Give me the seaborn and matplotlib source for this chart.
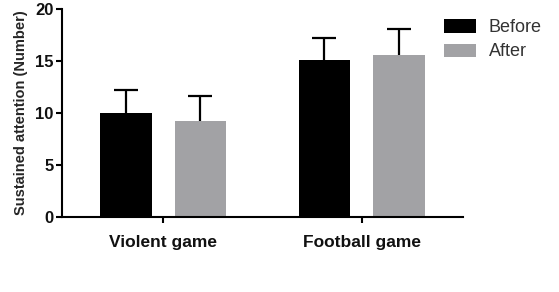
import matplotlib
matplotlib.use('Agg')
import matplotlib.pyplot as plt
from matplotlib.patches import Patch
import seaborn as sns
import pandas as pd

# data
games = ['Violent game', 'Football game']
groups = ['Before', 'After']
before_mean = [10.0, 15.1]
after_mean = [9.2, 15.6]
before_sd = [2.2, 2.15]
after_sd = [2.45, 2.45]
colors = ['#000000', '#a2a2a5']

df = pd.DataFrame({
    'game': games * 2,
    'time': ['Before'] * 2 + ['After'] * 2,
    'value': before_mean + after_mean,
})

sns.set_style('ticks')
plt.rcParams['font.family'] = ['Liberation Sans', 'DejaVu Sans']

fig = plt.figure(figsize=(5.59, 2.92), dpi=100)
ax = fig.add_axes([0.111, 0.257, 0.717, 0.712])

sns.barplot(data=df, x='game', y='value', hue='time', order=games, hue_order=groups,
            palette=colors, width=0.75, gap=0.31, errorbar=None, linewidth=0,
            legend=False, ax=ax)

# upper error bars only (drop the lower cap)
sds = [before_sd, after_sd]
for cont, sd in zip(ax.containers, sds):
    for bar, s in zip(cont, sd):
        xc = bar.get_x() + bar.get_width() / 2
        h = bar.get_height()
        eb = ax.errorbar(xc, h, yerr=[[0], [s]], fmt='none', ecolor='black',
                         elinewidth=1.6, capsize=8.3, capthick=1.6, zorder=1)
        eb[1][0].remove()

ax.set_xlim(-0.51, 1.51)
ax.set_ylim(0, 20)
ax.set_yticks([0, 5, 10, 15, 20])
sns.despine(ax=ax)
for sp in ['left', 'bottom']:
    ax.spines[sp].set_linewidth(1.5)
    ax.spines[sp].set_color('black')
ax.tick_params(axis='both', direction='out', length=4, width=1.5, color='black')
ax.tick_params(axis='y', labelsize=12, pad=2)
ax.tick_params(axis='x', labelsize=12.5, pad=9)
for t in ax.get_yticklabels() + ax.get_xticklabels():
    t.set_fontweight('bold')
    t.set_color('#111111')

ax.set_xlabel('')
ax.set_ylabel('Sustained attention (Number)', fontsize=10.5, fontweight='bold', labelpad=5)

handles = [Patch(facecolor=c, edgecolor='none') for c in colors]
fig.legend(handles, groups, loc='upper left', bbox_to_anchor=(428 / 559, 1 - 3 / 292),
           frameon=False, fontsize=13, handlelength=1.75, handleheight=0.75,
           labelspacing=0.4, handletextpad=0.7, labelcolor='#333333')

fig.savefig('out.png', dpi=100)
